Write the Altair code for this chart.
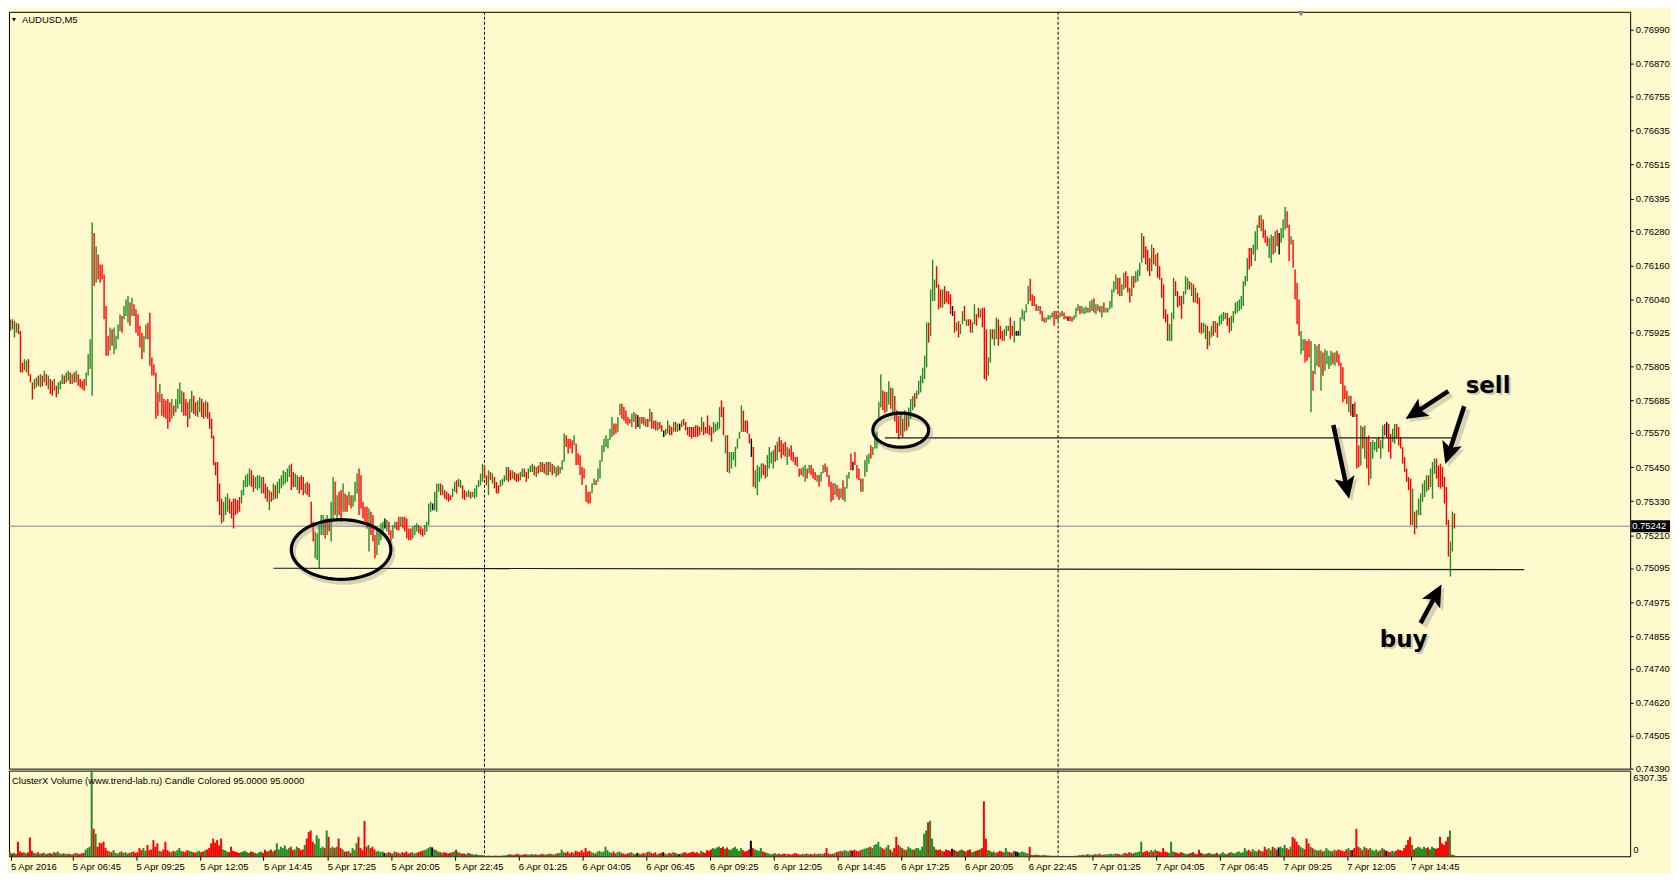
import math
from datetime import datetime, timedelta

import altair as alt
import pandas as pd

# ---------------------------------------------------------------- data
SYMBOL_TITLE = "AUDUSD,M5"
INDICATOR_TITLE = "ClusterX Volume (www.trend-lab.ru) Candle Colored 95.0000 95.0000"
FIRST_BAR_TIME = "2016-04-05 04:10"
BAR_MINUTES = 5

# bar highs / lows in 1e-5 price units
hi_5apr = [
    75970, 75970, 75964, 75958, 75955, 75929, 75818, 75830, 75825, 75830,
    75777, 75748, 75760, 75765, 75772, 75777, 75772, 75789, 75777, 75772,
    75760, 75754, 75760, 75736, 75748, 75754, 75777, 75772, 75783, 75789,
    75783, 75777, 75783, 75789, 75777, 75760, 75754, 75760, 75783, 75847,
    75900, 76311, 76274, 76227, 76198, 76163, 76163, 76128, 76017, 75912,
    75941, 75935, 75941, 75912, 75952, 75988, 75982, 76017, 76040, 76052,
    76029, 76046, 76023, 76005, 75988, 75947, 75923, 75912, 75952, 75958,
    75993, 75836, 75812, 75783, 75713, 75742, 75707, 75690, 75684, 75690,
    75678, 75690, 75667, 75690, 75725, 75748, 75719, 75713, 75690, 75678,
    75690, 75719, 75701, 75678, 75684, 75696, 75690, 75678, 75684, 75678,
    75643, 75620, 75561, 75468, 75468, 75392, 75339, 75328, 75345, 75357,
    75339, 75328, 75339, 75339, 75334, 75345, 75369, 75404, 75421, 75427,
    75445, 75439, 75421, 75415, 75421, 75421, 75415, 75415, 75392, 75380,
    75369, 75363, 75392, 75386, 75398, 75409, 75421, 75439, 75433, 75445,
    75456, 75462, 75433, 75427, 75421, 75415, 75421, 75415, 75392, 75398,
    75392, 75328, 75258, 75223, 75217, 75246, 75281, 75281, 75269, 75281,
    75269, 75328, 75415, 75398, 75351, 75363, 75369, 75392, 75357, 75351,
    75363, 75351, 75351, 75398, 75427, 75445, 75421, 75328, 75310, 75310,
    75304, 75293, 75281, 75211, 75234, 75234, 75252, 75258, 75269, 75264,
    75258, 75228, 75246, 75258, 75258, 75275, 75275, 75275, 75275, 75269,
    75234, 75234, 75240, 75246, 75252, 75246, 75240, 75234, 75246, 75258,
    75322, 75328, 75322, 75363, 75392, 75392, 75392, 75386, 75369, 75363,
    75357, 75351, 75375, 75398, 75404, 75409, 75404, 75386, 75369, 75363,
    75369, 75363, 75363, 75375, 75386, 75404, 75427, 75462]
lo_5apr = [
    75930, 75935, 75906, 75923, 75918, 75783, 75783, 75790, 75783, 75772,
    75748, 75688, 75724, 75730, 75736, 75730, 75734, 75748, 75736, 75724,
    75707, 75701, 75719, 75696, 75707, 75724, 75742, 75742, 75748, 75754,
    75742, 75742, 75748, 75748, 75736, 75730, 75724, 75719, 75736, 75772,
    75795, 75701, 76087, 76099, 76110, 76099, 76110, 75970, 75842, 75842,
    75859, 75877, 75847, 75865, 75900, 75929, 75923, 75970, 75982, 75958,
    75947, 75982, 75982, 75923, 75912, 75871, 75830, 75853, 75900, 75900,
    75807, 75772, 75772, 75620, 75631, 75678, 75631, 75626, 75620, 75585,
    75608, 75620, 75631, 75643, 75655, 75672, 75643, 75631, 75631, 75591,
    75620, 75643, 75637, 75631, 75626, 75643, 75626, 75620, 75626, 75620,
    75585, 75550, 75456, 75421, 75328, 75281, 75252, 75258, 75281, 75293,
    75287, 75269, 75234, 75281, 75287, 75293, 75322, 75351, 75380, 75380,
    75386, 75380, 75363, 75375, 75369, 75375, 75357, 75357, 75339, 75328,
    75298, 75328, 75334, 75339, 75339, 75357, 75375, 75386, 75392, 75398,
    75415, 75369, 75380, 75380, 75369, 75357, 75369, 75351, 75357, 75351,
    75345, 75246, 75188, 75129, 75123, 75094, 75211, 75211, 75199, 75211,
    75223, 75188, 75258, 75281, 75258, 75281, 75258, 75293, 75293, 75293,
    75316, 75304, 75310, 75328, 75357, 75281, 75304, 75269, 75258, 75234,
    75153, 75211, 75188, 75129, 75141, 75176, 75193, 75211, 75234, 75223,
    75211, 75188, 75199, 75234, 75228, 75228, 75240, 75234, 75223, 75199,
    75193, 75193, 75199, 75211, 75223, 75217, 75211, 75205, 75211, 75223,
    75246, 75293, 75298, 75298, 75293, 75363, 75351, 75351, 75339, 75334,
    75328, 75334, 75345, 75363, 75357, 75380, 75375, 75339, 75334, 75345,
    75345, 75339, 75345, 75339, 75345, 75380, 75386, 75398]
# g = up bar, r = down bar, k = unchanged
dir_5apr = ("grggrrrggr" "rrggrgrgrg" "rrgrgggrgg" "rgrgrrrrgg" "ggrgrrrrrr"
            "grggggrggg" "rgrrrrrggr" "rrrrrgrrrr" "rgrggggrrr" "ggrrggrrgr"
            "rrrrrrrggg" "rrrrrrgggg" "grrggggrrr" "grgrgggggg" "grrggrrrgr"
            "rrrgggggrg" "rggrgrrgrr" "grgggrrrrr" "grrrggggkg" "rrggrrgrrr"
            "rrgggrrrgg" "ggkgggrgrr" "rrggrggrrg" "grgggggg")
vol_5apr = [
    300, 200, 250, 180, 1070, 350, 250, 300, 200, 280,
    1380, 400, 250, 200, 300, 180, 220, 260, 150, 200,
    240, 180, 300, 250, 350, 200, 180, 220, 150, 200,
    170, 120, 180, 250, 200, 150, 220, 250, 480, 600,
    700, 6300, 2020, 1660, 700, 1000, 950, 1070, 600, 400,
    350, 300, 450, 250, 200, 300, 350, 250, 300, 200,
    250, 300, 350, 250, 300, 600, 450, 600, 400, 830,
    450, 500, 1190, 700, 950, 400, 350, 500, 1070, 450,
    350, 300, 400, 350, 450, 600, 400, 350, 300, 450,
    400, 350, 300, 250, 350, 400, 300, 350, 450, 500,
    600, 950, 1300, 1000, 1190, 800, 1300, 500, 450, 350,
    300, 700, 400, 350, 300, 250, 300, 350, 400, 300,
    250, 350, 300, 250, 200, 300, 350, 250, 480, 350,
    400, 500, 350, 450, 950, 500, 700, 600, 800, 500,
    600, 700, 450, 500, 700, 600, 450, 500, 830, 1300,
    1780, 1900, 1070, 900, 1550, 1300, 600, 700, 600, 1900,
    1430, 600, 700, 600, 700, 1300, 600, 500, 350, 350,
    400, 250, 600, 450, 950, 1430, 600, 450, 2600, 700,
    830, 600, 700, 500, 350, 400, 300, 350, 250, 200,
    300, 250, 200, 350, 300, 250, 200, 300, 250, 350,
    200, 250, 300, 200, 250, 300, 350, 400, 450, 500,
    600, 700, 650, 500, 450, 350, 300, 250, 300, 250,
    200, 250, 300, 350, 480, 300, 250, 200, 200, 150,
    250, 200, 150, 120, 150, 100, 80, 100]

hi_6apr = [
    75456, 75421, 75439, 75433, 75427, 75415, 75398, 75386, 75404, 75409,
    75421, 75450, 75450, 75439, 75439, 75433, 75427, 75427, 75433, 75445,
    75445, 75433, 75445, 75456, 75462, 75456, 75450, 75456, 75468, 75468,
    75462, 75468, 75468, 75468, 75462, 75456, 75450, 75456, 75450, 75474,
    75568, 75562, 75550, 75550, 75544, 75562, 75533, 75498, 75492, 75451,
    75445, 75387, 75363, 75363, 75393, 75410, 75404, 75445, 75474, 75527,
    75550, 75562, 75550, 75585, 75626, 75603, 75603, 75626, 75673, 75673,
    75661, 75649, 75626, 75620, 75638, 75644, 75638, 75632, 75626, 75626,
    75626, 75620, 75620, 75655, 75644, 75614, 75614, 75609, 75609, 75597,
    75579, 75585, 75614, 75597, 75591, 75609, 75609, 75603, 75603, 75614,
    75620, 75609, 75591, 75591, 75591, 75591, 75597, 75597, 75591, 75626,
    75609, 75591, 75632, 75597, 75591, 75609, 75603, 75609, 75661, 75685,
    75661, 75562, 75562, 75503, 75503, 75503, 75521, 75550, 75574, 75667,
    75649, 75614, 75614, 75568, 75550, 75521, 75439, 75457, 75451, 75463,
    75463, 75457, 75492, 75521, 75503, 75509, 75527, 75539, 75556, 75544,
    75533, 75539, 75521, 75515, 75527, 75503, 75486, 75486, 75445, 75445,
    75451, 75457, 75445, 75457, 75457, 75445, 75433, 75422, 75422, 75433,
    75457, 75463, 75451, 75422, 75398, 75393, 75393, 75387, 75375, 75375,
    75404, 75381, 75422, 75433, 75498, 75469, 75503, 75457, 75445, 75410,
    75410, 75474, 75492, 75498, 75527, 75521, 75550, 75574, 75679, 75777,
    75720, 75715, 75714, 75752, 75730, 75727, 75700, 75650, 75630, 75640,
    75620, 75650, 75640, 75660, 75690, 75700, 75710, 75719, 75754, 75772,
    75800, 75842, 75959, 75959, 76075, 76180, 76110, 76157, 76093, 76075,
    76075, 76087, 76069, 76069, 76058, 76017, 75999, 75959, 75964, 75953,
    75999, 76017, 75970, 75970, 75970, 75959, 76023, 75988, 76011, 76005,
    76011, 76011, 75935, 75836, 75935, 75935, 75935, 75976, 75970, 75947,
    75929, 75935, 75947, 75947, 75976, 75947, 75964, 75929, 75929, 75976,
    76005, 75999, 76023, 76087, 76113, 76058, 76052, 76023, 76017, 76017,
    75999, 75976, 75976, 75984, 75984, 75994, 75999, 75999]
lo_6apr = [
    75410, 75386, 75351, 75404, 75392, 75375, 75357, 75357, 75380, 75386,
    75398, 75404, 75398, 75404, 75409, 75404, 75398, 75398, 75404, 75415,
    75415, 75398, 75409, 75433, 75433, 75421, 75415, 75427, 75433, 75433,
    75427, 75421, 75421, 75433, 75421, 75427, 75415, 75421, 75427, 75440,
    75469, 75521, 75498, 75515, 75498, 75527, 75457, 75457, 75422, 75387,
    75410, 75328, 75322, 75322, 75358, 75387, 75387, 75398, 75410, 75469,
    75503, 75521, 75515, 75544, 75556, 75562, 75568, 75574, 75632, 75620,
    75614, 75603, 75597, 75603, 75591, 75609, 75585, 75591, 75585, 75603,
    75597, 75591, 75591, 75609, 75585, 75585, 75579, 75579, 75585, 75574,
    75556, 75562, 75568, 75562, 75562, 75574, 75574, 75574, 75579, 75591,
    75597, 75579, 75562, 75556, 75550, 75556, 75556, 75556, 75562, 75574,
    75562, 75568, 75568, 75562, 75539, 75568, 75574, 75579, 75585, 75626,
    75562, 75498, 75433, 75428, 75445, 75474, 75451, 75515, 75550, 75574,
    75574, 75574, 75568, 75533, 75486, 75381, 75375, 75352, 75398, 75410,
    75422, 75410, 75416, 75445, 75463, 75445, 75469, 75474, 75503, 75480,
    75492, 75486, 75457, 75486, 75474, 75469, 75457, 75451, 75416, 75422,
    75416, 75398, 75410, 75428, 75422, 75410, 75404, 75398, 75381, 75398,
    75428, 75433, 75416, 75381, 75328, 75334, 75352, 75346, 75334, 75340,
    75334, 75328, 75375, 75410, 75439, 75439, 75457, 75410, 75404, 75363,
    75363, 75416, 75433, 75463, 75480, 75492, 75515, 75515, 75620, 75660,
    75650, 75640, 75645, 75670, 75655, 75640, 75610, 75570, 75548, 75560,
    75555, 75575, 75580, 75590, 75620, 75650, 75660, 75690, 75705, 75713,
    75745, 75760, 75801, 75888, 75912, 76034, 76034, 76081, 76005, 76011,
    76011, 76023, 76029, 76023, 75988, 75982, 75923, 75929, 75906, 75918,
    75953, 75964, 75947, 75947, 75923, 75923, 75953, 75947, 75976, 75976,
    75941, 75760, 75754, 75772, 75818, 75900, 75877, 75900, 75877, 75900,
    75894, 75894, 75912, 75929, 75900, 75912, 75888, 75912, 75912, 75912,
    75970, 75964, 75994, 76023, 76034, 76017, 76017, 75999, 75999, 75988,
    75964, 75959, 75959, 75968, 75970, 75976, 75947, 75970]
dir_6apr = ("rrgrgrrrgg" "ggrrgrrrgg" "rrgggrgrgr" "rgrgrggrgg" "grrrrgrrrr"
            "rrrrggrggg" "gggggrrggr" "rrrrggrkgr" "rgrgrrrgrr" "kggrrgrgkg"
            "rrrrrrrrrg" "rrrrrggggr" "rgrggggggg" "rrrrkrgggg" "rrggggrgrr"
            "rrgrrrrrrr" "ggrgrrrgrg" "grrrrrgrrg" "rgggrkrrrr" "ggggrggggg"
            "rrggrgrrrg" "rgrgggrggg" "gggrgggrrr" "grrrrkrgrg" "grgrrggrrg"
            "rrrggrggrr" "rgggrrgkkg" "ggggrrrrgr" "rrggggrr")
vol_6apr = [
    40, 30, 50, 40, 30, 40, 50, 30, 40, 50,
    60, 70, 100, 150, 120, 90, 150, 180, 120, 100,
    140, 160, 110, 130, 170, 120, 150, 100, 130, 180,
    140, 120, 160, 200, 150, 130, 180, 220, 250, 480,
    300, 250, 350, 200, 300, 250, 400, 350, 300, 450,
    300, 600, 350, 400, 300, 250, 200, 350, 400, 300,
    350, 700, 450, 300, 250, 350, 200, 300, 350, 250,
    200, 150, 200, 250, 300, 200, 150, 250, 200, 150,
    250, 200, 300, 350, 250, 200, 300, 150, 200, 250,
    300, 200, 150, 250, 200, 300, 250, 200, 150, 200,
    250, 300, 200, 250, 300, 350, 250, 300, 200, 400,
    300, 250, 450, 400, 500, 600, 550, 650, 710, 600,
    700, 550, 650, 500, 480, 600, 700, 550, 400, 600,
    450, 350, 400, 500, 1140, 600, 500, 450, 400, 600,
    350, 300, 250, 200, 150, 180, 220, 150, 200, 120,
    180, 200, 150, 180, 120, 150, 240, 200, 150, 120,
    180, 150, 200, 150, 180, 120, 200, 150, 180, 200,
    150, 240, 600, 200, 150, 180, 220, 300, 350, 400,
    350, 450, 400, 350, 450, 400, 480, 400, 350, 450,
    500, 550, 600, 650, 700, 600, 830, 900, 1070, 700,
    600, 500, 650, 830, 500, 350, 600, 1430, 830, 700,
    600, 500, 450, 700, 600, 500, 480, 600, 600, 450,
    700, 1660, 1900, 2500, 2620, 1300, 700, 500, 450, 500,
    400, 350, 500, 450, 400, 550, 480, 400, 350, 450,
    500, 400, 350, 450, 500, 300, 350, 400, 450, 500,
    600, 4050, 1300, 450, 400, 300, 350, 250, 300, 400,
    350, 300, 600, 350, 300, 250, 400, 350, 300, 250,
    350, 300, 250, 200, 700, 100, 80, 120, 100, 80,
    60, 100, 80, 60, 50, 40, 30, 40]

hi_7apr = [
    75988, 75994, 75999, 75994, 75982, 75980, 75982, 75978, 75984, 76011,
    76023, 76017, 76017, 76011, 76015, 76011, 76034, 76040, 76043, 76023,
    76023, 76017, 76017, 76029, 76011, 76011, 76034, 76075, 76104, 76128,
    76116, 76116, 76093, 76134, 76139, 76122, 76081, 76122, 76122, 76139,
    76145, 76169, 76274, 76262, 76227, 76215, 76186, 76233, 76221, 76198,
    76204, 76157, 76116, 76093, 76005, 75988, 75953, 75994, 76116, 76104,
    76069, 76052, 76052, 76069, 76122, 76116, 76104, 76099, 76093, 76081,
    76063, 76046, 75958, 75958, 75953, 75947, 75929, 75947, 75964, 75964,
    75958, 75982, 75988, 75996, 75993, 75993, 75976, 75982, 75999, 76029,
    76034, 76040, 76052, 76104, 76122, 76186, 76221, 76221, 76233, 76280,
    76303, 76335, 76338, 76321, 76285, 76262, 76256, 76268, 76262, 76280,
    76285, 76274, 76291, 76321, 76365, 76350, 76303, 76262, 76250, 76145,
    76099, 76040, 75929, 75900, 75900, 75894, 75900, 75894, 75789, 75883,
    75877, 75883, 75859, 75853, 75865, 75859, 75842, 75859, 75853, 75853,
    75859, 75847, 75818, 75801, 75737, 75719, 75701, 75701, 75672, 75678,
    75637, 75526, 75596, 75591, 75596, 75556, 75561, 75538, 75544, 75538,
    75550, 75556, 75544, 75596, 75602, 75608, 75602, 75567, 75585, 75602,
    75602, 75591, 75556, 75520, 75485, 75445, 75415, 75409, 75374, 75293,
    75299, 75339, 75357, 75392, 75404, 75421, 75421, 75445, 75468, 75480,
    75480, 75456, 75462, 75450, 75415, 75380, 75264, 75188, 75293, 75287]
lo_7apr = [
    75964, 75976, 75982, 75970, 75970, 75964, 75964, 75961, 75968, 75976,
    75999, 75988, 75991, 75988, 75991, 75994, 75994, 75999, 75994, 75988,
    75999, 75994, 75976, 75994, 75994, 75994, 76005, 76011, 76064, 76075,
    76058, 76052, 76052, 76075, 76081, 76064, 76029, 76052, 76081, 76099,
    76104, 76122, 76169, 76186, 76163, 76139, 76122, 76139, 76163, 76157,
    76116, 76110, 76046, 75972, 75959, 75894, 75894, 75894, 75970, 76052,
    76011, 76017, 75972, 76023, 76058, 76075, 76075, 76052, 76029, 76029,
    76023, 75923, 75918, 75923, 75900, 75865, 75877, 75906, 75912, 75923,
    75906, 75947, 75953, 75964, 75970, 75947, 75923, 75929, 75958, 75988,
    75993, 75999, 76005, 76017, 76087, 76104, 76145, 76157, 76198, 76175,
    76215, 76291, 76280, 76256, 76239, 76227, 76186, 76169, 76198, 76204,
    76227, 76198, 76239, 76256, 76285, 76291, 76175, 76233, 76151, 76040,
    75953, 75912, 75847, 75859, 75818, 75824, 75836, 75643, 75719, 75777,
    75807, 75801, 75719, 75771, 75789, 75812, 75795, 75807, 75812, 75807,
    75818, 75807, 75742, 75678, 75690, 75672, 75643, 75631, 75626, 75626,
    75445, 75450, 75456, 75515, 75480, 75445, 75386, 75409, 75480, 75509,
    75503, 75515, 75480, 75515, 75561, 75556, 75503, 75480, 75538, 75532,
    75550, 75526, 75515, 75462, 75433, 75398, 75369, 75246, 75246, 75213,
    75234, 75281, 75281, 75328, 75345, 75363, 75369, 75380, 75339, 75427,
    75409, 75380, 75374, 75380, 75322, 75246, 75135, 75065, 75153, 75234]
dir_7apr = ("ggrrrkrrgg" "grgggrggrg" "grgrgggggg" "rrggrrrgrg" "gggrrrrgrg"
            "rrrrrrgggr" "rrrgggrgrg" "rrrggrggrg" "rggggrrggg" "ggggggrrgg"
            "grgrrrggrg" "rkgggrrgrr" "rrggrrrgrg" "grgrggggrg" "rrrrrrgrkr"
            "rrgrgrrggg" "grggrkrrgg" "rrrrrrrrgr" "ggggggrggg" "rrrrrrrggr")
vol_7apr = [
    20, 15, 20, 30, 20, 25, 15, 20, 30, 40,
    50, 80, 100, 120, 90, 150, 130, 100, 120, 170,
    140, 190, 120, 100, 150, 130, 170, 180, 150, 200,
    180, 150, 120, 200, 250, 180, 300, 250, 200, 280,
    300, 350, 1070, 300, 350, 400, 300, 450, 350, 480,
    400, 350, 300, 600, 350, 300, 250, 1070, 350, 300,
    250, 200, 300, 250, 200, 150, 200, 250, 300, 200,
    150, 480, 250, 200, 150, 200, 250, 200, 150, 200,
    250, 150, 200, 300, 200, 150, 250, 300, 250, 200,
    300, 350, 250, 300, 600, 400, 480, 350, 520, 400,
    350, 480, 400, 350, 700, 500, 600, 450, 700, 600,
    500, 650, 700, 600, 830, 600, 500, 700, 1430, 1300,
    1070, 830, 700, 600, 500, 1300, 950, 700, 600, 500,
    450, 400, 500, 350, 400, 600, 450, 400, 350, 480,
    400, 500, 450, 400, 350, 500, 600, 450, 450, 600,
    2020, 700, 600, 450, 700, 600, 500, 600, 450, 400,
    500, 350, 450, 600, 500, 400, 350, 300, 400, 350,
    400, 500, 450, 400, 600, 830, 1200, 1430, 830, 500,
    600, 700, 650, 550, 700, 600, 650, 500, 700, 600,
    550, 600, 1430, 950, 830, 1100, 1430, 1900, 120, 80]

price_ticks = [0.76990, 0.76870, 0.76755, 0.76635, 0.76515, 0.76395, 0.76280,
               0.76160, 0.76040, 0.75925, 0.75805, 0.75685, 0.75570, 0.75450,
               0.75330, 0.75210, 0.75095, 0.74975, 0.74855, 0.74740, 0.74620,
               0.74505, 0.74390]
time_tick_labels = ["5 Apr 2016", "5 Apr 06:45", "5 Apr 09:25", "5 Apr 12:05",
                    "5 Apr 14:45", "5 Apr 17:25", "5 Apr 20:05", "5 Apr 22:45",
                    "6 Apr 01:25", "6 Apr 04:05", "6 Apr 06:45", "6 Apr 09:25",
                    "6 Apr 12:05", "6 Apr 14:45", "6 Apr 17:25", "6 Apr 20:05",
                    "6 Apr 22:45", "7 Apr 01:25", "7 Apr 04:05", "7 Apr 06:45",
                    "7 Apr 09:25", "7 Apr 12:05", "7 Apr 14:45"]
day_separators = ["6 Apr 00:00", "7 Apr 00:00"]
volume_scale_max = 6307.35
bid_price = 0.75242
price_view = [0.74389, 0.77052]

# hand-drawn annotations (bar index, price)
ellipse_bar = [166, 447]
ellipse_price = [0.75160, 0.75580]
ellipse_half_bars = [25, 14]
ellipse_half_price = [0.00105, 0.00060]
level_bar_from = [132, 439]
level_bar_to = [760, 724]
level_price_from = [0.75094, 0.75553]
level_price_to = [0.75089, 0.75553]
arrow_tail_bar = [664.2, 721.9, 729.9, 708.0]
arrow_tail_price = [0.75598, 0.75717, 0.75664, 0.74901]
arrow_tip_bar = [672.1, 700.5, 720.4, 718.5]
arrow_tip_price = [0.75339, 0.75619, 0.75461, 0.75037]
note_text = ["sell", "buy"]
note_bar = [741.9, 699.5]
note_price = [0.75710, 0.74816]
chart_shift_bar = 648

# ---------------------------------------------------------------- style
BG = "#FFFACD"
UP, DOWN, FLAT = "#228B22", "#FF0000", "#000000"
FONT = "Liberation Sans"
W, H_MAIN, H_VOL = 1628, 760, 86
X_DOMAIN = [-0.75, W / 2 - 0.75]
HEAD_SHAPE = "M0,-1L0.75,0.6L0,0.25L-0.75,0.6Z"
HEAD_SIZE = 756
BAR_HALF = 0.35  # half bar width, in bar units

# ---------------------------------------------------------------- build
t0 = datetime.strptime(FIRST_BAR_TIME, "%Y-%m-%d %H:%M")


def bar_index(label):
    if ":" not in label:
        return 0
    t = datetime.strptime(label + " 2016", "%d %b %H:%M %Y")
    return int(round((t - t0).total_seconds() / 60 / BAR_MINUTES))


hi = hi_5apr + hi_6apr + hi_7apr
lo = lo_5apr + lo_6apr + lo_7apr
dirs = list(dir_5apr + dir_6apr + dir_7apr)
vol = vol_5apr + vol_6apr + vol_7apr
n = min(len(hi), len(lo), len(dirs), len(vol))
idx = list(range(n))
bars = pd.DataFrame({
    "i": idx,
    "b0": [k - BAR_HALF for k in idx], "b1": [k + BAR_HALF for k in idx],
    "v0": [k - 0.75 for k in idx], "v1": [k + 0.25 for k in idx],
    "hi": [v / 1e5 for v in hi[:n]],
    "lo": [v / 1e5 for v in lo[:n]],
    "d": dirs[:n],
    "v": vol[:n],
    "z": [0] * n,
})

tick_idx = [bar_index(s) for s in time_tick_labels]
sep_df = pd.DataFrame({"i": [bar_index(s) for s in day_separators]})

xs = alt.Scale(domain=X_DOMAIN, nice=False, zero=False)
ys = alt.Scale(domain=price_view, nice=False, zero=False)
vs = alt.Scale(domain=[0, volume_scale_max], nice=False, zero=False)
cs = alt.Scale(domain=["g", "r", "k"], range=[UP, DOWN, FLAT])

yaxis = alt.Axis(orient="right", values=price_ticks, format=".5f", tickSize=3,
                 labelPadding=2, title=None, grid=False, domain=False,
                 labelOverlap=False)
label_js = "[" + ",".join("'%s'" % s for s in time_tick_labels) + "]"
idx_js = "[" + ",".join(str(k) for k in tick_idx) + "]"
xaxis = alt.Axis(orient="bottom", values=tick_idx,
                 labelExpr=label_js + "[indexof(" + idx_js + ", datum.value)]",
                 labelAlign="left", labelBaseline="top", labelPadding=1,
                 tickSize=4, labelOverlap=False, labelFlush=False,
                 labelBound=False, title=None, grid=False, domain=False)


def X(f):
    return alt.X(f, type="quantitative", scale=xs, axis=None)


def Y(f):
    return alt.Y(f, type="quantitative", scale=ys, axis=yaxis)


def VY(f):
    return alt.Y(f, type="quantitative", scale=vs, axis=None)


px_bar = W / (X_DOMAIN[1] - X_DOMAIN[0])
px_price = H_MAIN / (price_view[1] - price_view[0])

# ellipse outlines
ell_rows = []
for e in range(len(ellipse_bar)):
    for k in range(73):
        t = 2 * math.pi * k / 72
        ell_rows.append({"id": e, "k": k,
                         "x": ellipse_bar[e] + ellipse_half_bars[e] * math.cos(t),
                         "p": ellipse_price[e] + ellipse_half_price[e] * math.sin(t)})
ell_df = pd.DataFrame(ell_rows)

lev_df = pd.DataFrame({"x1": level_bar_from, "x2": level_bar_to,
                       "p1": level_price_from, "p2": level_price_to})

# arrows
head_reach = math.sqrt(HEAD_SIZE) / 2
arr_rows = []
for a in range(len(arrow_tail_bar)):
    dx = (arrow_tip_bar[a] - arrow_tail_bar[a]) * px_bar
    dy = -(arrow_tip_price[a] - arrow_tail_price[a]) * px_price
    L = math.hypot(dx, dy)
    ux, uy = dx / L, dy / L
    hx = arrow_tip_bar[a] - ux * head_reach / px_bar
    hp = arrow_tip_price[a] + uy * head_reach / px_price
    ang = math.degrees(math.atan2(ux, -uy)) % 360
    arr_rows.append({"tx": arrow_tail_bar[a], "tp": arrow_tail_price[a],
                     "hx": hx, "hp": hp, "ang": ang})
arr_df = pd.DataFrame(arr_rows)

note_df = pd.DataFrame({"t": note_text, "x": note_bar, "p": note_price})

bid_layer = alt.Chart(pd.DataFrame({"p": [bid_price]})).mark_rule(
    color="#778899", strokeWidth=1).encode(y=Y("p"))
sep_layer = alt.Chart(sep_df).mark_rule(
    color="black", strokeDash=[3, 2], strokeWidth=1).encode(x=X("i"))
bar_layer = alt.Chart(bars).mark_rect().encode(
    x=X("b0"), x2="b1:Q", y=Y("lo"), y2="hi:Q",
    color=alt.Color("d:N", scale=cs, legend=None))
lev_layer = alt.Chart(lev_df).mark_rule(color="#1a1a1a", strokeWidth=1.2).encode(
    x=X("x1"), x2="x2:Q", y=Y("p1"), y2="p2:Q")
ell_shadow = alt.Chart(ell_df).mark_line(
    color="#777777", opacity=0.3, strokeWidth=5, xOffset=2, yOffset=3).encode(
    x=X("x"), y=Y("p"), detail="id:N", order="k:Q")
ell_layer = alt.Chart(ell_df).mark_line(color="black", strokeWidth=3.2).encode(
    x=X("x"), y=Y("p"), detail="id:N", order="k:Q")
shaft_shadow = alt.Chart(arr_df).mark_rule(
    color="#777777", opacity=0.3, strokeWidth=7, xOffset=3, yOffset=3,
    x2Offset=3, y2Offset=3).encode(x=X("tx"), x2="hx:Q", y=Y("tp"), y2="hp:Q")
shaft_layer = alt.Chart(arr_df).mark_rule(color="black", strokeWidth=4.5).encode(
    x=X("tx"), x2="hx:Q", y=Y("tp"), y2="hp:Q")
head_shadow = alt.Chart(arr_df).mark_point(
    shape=HEAD_SHAPE, filled=True, size=HEAD_SIZE, color="#777777",
    opacity=0.3, strokeWidth=0, xOffset=3, yOffset=3).encode(
    x=X("hx"), y=Y("hp"), angle=alt.Angle("ang:Q", scale=None))
head_layer = alt.Chart(arr_df).mark_point(
    shape=HEAD_SHAPE, filled=True, size=HEAD_SIZE, color="black",
    opacity=1, strokeWidth=0).encode(
    x=X("hx"), y=Y("hp"), angle=alt.Angle("ang:Q", scale=None))
note_shadow = alt.Chart(note_df).mark_text(
    font="DejaVu Sans", fontWeight="bold", fontSize=23, align="center",
    baseline="alphabetic", color="#777777", opacity=0.35, dx=2, dy=2).encode(
    x=X("x"), y=Y("p"), text="t:N")
note_layer = alt.Chart(note_df).mark_text(
    font="DejaVu Sans", fontWeight="bold", fontSize=23, align="center",
    baseline="alphabetic", color="black").encode(x=X("x"), y=Y("p"), text="t:N")
bid_box = alt.Chart(pd.DataFrame({"p": [bid_price]})).mark_point(
    shape="M-1,-0.31L1,-0.31L1,0.31L-1,0.31Z", filled=True, size=1521,
    color="black", opacity=1, strokeWidth=0).encode(
    x=alt.value(W + 20.5), y=Y("p"))
bid_text = alt.Chart(pd.DataFrame({"p": [bid_price],
                                   "t": ["%.5f" % bid_price]})).mark_text(
    align="left", baseline="middle", font=FONT, fontSize=9.5,
    color="white").encode(x=alt.value(W + 2), y=Y("p"), text="t:N")
title_layer = alt.Chart(pd.DataFrame({"t": [SYMBOL_TITLE]})).mark_text(
    align="left", baseline="middle", font=FONT, fontSize=9.5,
    color="black").encode(x=alt.value(13), y=alt.value(8), text="t:N")
title_tri = alt.Chart(pd.DataFrame({"t": [SYMBOL_TITLE]})).mark_point(
    shape="triangle-down", filled=True, size=16, color="black",
    opacity=1).encode(x=alt.value(5), y=alt.value(8))
shift_tri = alt.Chart(pd.DataFrame({"i": [chart_shift_bar]})).mark_point(
    shape="triangle-down", filled=True, size=40, color="#7d8aa0",
    opacity=1).encode(x=X("i"), y=alt.value(2))

main = alt.layer(
    bid_layer, sep_layer, bar_layer, lev_layer, ell_shadow, ell_layer,
    shaft_shadow, head_shadow, shaft_layer, head_layer, note_shadow,
    note_layer, bid_box, bid_text, title_layer, title_tri, shift_tri,
).properties(width=W, height=H_MAIN)

vol_bars = alt.Chart(bars).mark_rect().encode(
    x=alt.X("v0:Q", scale=xs, axis=xaxis), x2="v1:Q",
    y=VY("v"), y2="z:Q",
    color=alt.Color("d:N", scale=cs, legend=None))
vol_sep = alt.Chart(sep_df).mark_rule(
    color="black", strokeDash=[3, 2], strokeWidth=1).encode(
    x=alt.X("i:Q", scale=xs, axis=xaxis))
vol_title = alt.Chart(pd.DataFrame({"t": [INDICATOR_TITLE]})).mark_text(
    align="left", baseline="middle", font=FONT, fontSize=9.5,
    color="black").encode(x=alt.value(3), y=alt.value(10), text="t:N")
vol_top_lab = alt.Chart(pd.DataFrame({"v": [volume_scale_max],
                                      "t": ["%.2f" % volume_scale_max]})).mark_text(
    align="left", baseline="top", font=FONT, fontSize=9.5, color="black",
    dy=2).encode(x=alt.value(W + 3), y=VY("v"), text="t:N")
vol_zero_lab = alt.Chart(pd.DataFrame({"v": [0], "t": ["0"]})).mark_text(
    align="left", baseline="bottom", font=FONT, fontSize=9.5, color="black",
    dy=-1).encode(x=alt.value(W + 3), y=VY("v"), text="t:N")

volume = alt.layer(vol_sep, vol_bars, vol_title, vol_top_lab,
                   vol_zero_lab).properties(width=W, height=H_VOL)

chart = alt.vconcat(main, volume, spacing=2, bounds="flush").properties(
    padding={"left": 0, "top": 0, "right": 0, "bottom": 0}
).configure(background=BG).configure_view(
    fill=BG, stroke="black", strokeWidth=1
).configure_axis(
    labelFont=FONT, labelFontSize=9.5, labelColor="black", tickColor="black",
    domain=False, grid=False
)

chart.save("out.html", embed_options={"renderer": "svg", "actions": False})
